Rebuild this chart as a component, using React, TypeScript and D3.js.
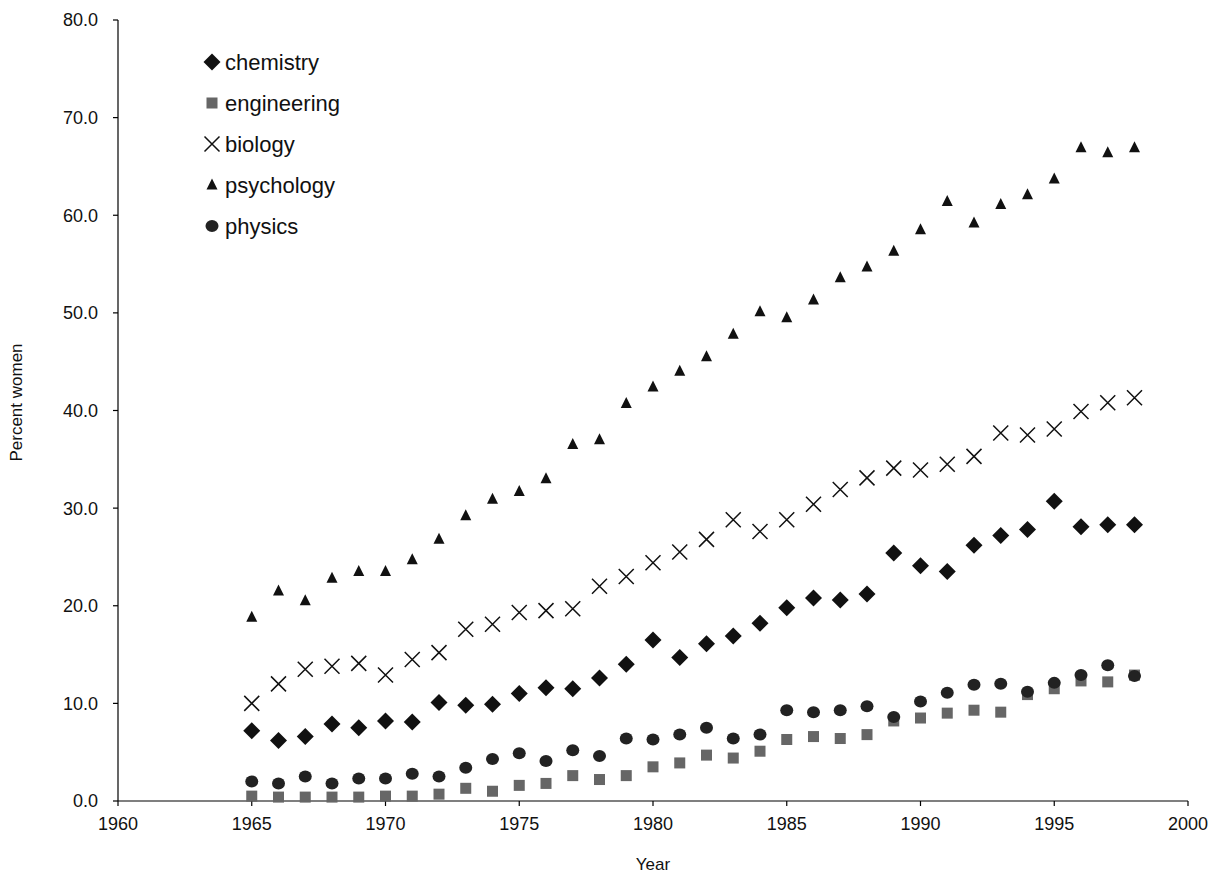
import React from "react";
import * as d3 from "d3";

const years = d3.range(1965, 1999);
const chemistry = [7.2, 6.2, 6.6, 7.9, 7.5, 8.2, 8.1, 10.1, 9.8, 9.9, 11.0, 11.6, 11.5, 12.6, 14.0, 16.5, 14.7, 16.1, 16.9, 18.2, 19.8, 20.8, 20.6, 21.2, 25.4, 24.1, 23.5, 26.2, 27.2, 27.8, 30.7, 28.1, 28.3, 28.3];
const engineering = [0.5, 0.4, 0.4, 0.4, 0.4, 0.5, 0.5, 0.7, 1.3, 1.0, 1.6, 1.8, 2.6, 2.2, 2.6, 3.5, 3.9, 4.7, 4.4, 5.1, 6.3, 6.6, 6.4, 6.8, 8.2, 8.5, 9.0, 9.3, 9.1, 10.9, 11.5, 12.3, 12.2, 12.9];
const biology = [10.0, 12.0, 13.5, 13.8, 14.1, 12.9, 14.5, 15.2, 17.6, 18.1, 19.3, 19.5, 19.7, 22.0, 23.0, 24.4, 25.5, 26.8, 28.8, 27.6, 28.8, 30.4, 31.9, 33.1, 34.1, 33.9, 34.5, 35.3, 37.7, 37.5, 38.1, 39.9, 40.8, 41.3];
const psychology = [18.8, 21.5, 20.5, 22.8, 23.5, 23.5, 24.7, 26.8, 29.2, 30.9, 31.7, 33.0, 36.5, 37.0, 40.7, 42.4, 44.0, 45.5, 47.8, 50.1, 49.5, 51.3, 53.6, 54.7, 56.3, 58.5, 61.4, 59.2, 61.1, 62.1, 63.7, 66.9, 66.4, 66.9];
const physics = [2.0, 1.8, 2.5, 1.8, 2.3, 2.3, 2.8, 2.5, 3.4, 4.3, 4.9, 4.1, 5.2, 4.6, 6.4, 6.3, 6.8, 7.5, 6.4, 6.8, 9.3, 9.1, 9.3, 9.7, 8.6, 10.2, 11.1, 11.9, 12.0, 11.2, 12.1, 12.9, 13.9, 12.8];

const xTicks = [1960, 1965, 1970, 1975, 1980, 1985, 1990, 1995, 2000];
const yTicks = [0, 10, 20, 30, 40, 50, 60, 70, 80];

const seriesNames = ["chemistry", "engineering", "biology", "psychology", "physics"];
const seriesValues = [chemistry, engineering, biology, psychology, physics];

const FONT = "'Liberation Sans', Arial, Helvetica, sans-serif";

function Marker({ kind, x, y }: { kind: string; x: number; y: number }) {
  if (kind === "chemistry") {
    const s = 8.5;
    return <path d={`M${x},${y - s}L${x + s},${y}L${x},${y + s}L${x - s},${y}Z`} fill="#111" />;
  }
  if (kind === "engineering") {
    const s = 5.5;
    return <rect x={x - s} y={y - s} width={2 * s} height={2 * s} fill="#666" />;
  }
  if (kind === "biology") {
    const s = 7.5;
    return (
      <path d={`M${x - s},${y - s}L${x + s},${y + s}M${x - s},${y + s}L${x + s},${y - s}`} stroke="#111" strokeWidth={1.5} fill="none" />
    );
  }
  if (kind === "psychology") {
    const w = 5.5, h = 11;
    return <path d={`M${x},${y - h * 0.6}L${x + w},${y + h * 0.4}L${x - w},${y + h * 0.4}Z`} fill="#111" />;
  }
  return <ellipse cx={x} cy={y} rx={6.5} ry={6} fill="#222" />;
}

export default function App() {
  const width = 1211, height = 873;
  const x = d3.scaleLinear().domain([1960, 2000]).range([118, 1188]);
  const y = d3.scaleLinear().domain([0, 80]).range([801, 20]);
  const fmt = d3.format(".1f");

  return (
    <svg width={width} height={height} style={{ position: "absolute", left: 0, top: 0, background: "#fff" }} fontFamily={FONT}>
      <rect width={width} height={height} fill="#fff" />
      {/* axes */}
      <line x1={118} y1={y(80)} x2={118} y2={y(0)} stroke="#000" strokeWidth={1.2} />
      <line x1={118} y1={801} x2={x(2000)} y2={801} stroke="#000" strokeWidth={1.2} />
      {yTicks.map((t) => (
        <g key={"y" + t}>
          <line x1={113} x2={118} y1={y(t)} y2={y(t)} stroke="#000" strokeWidth={1.2} />
          <text x={98} y={y(t)} dy="0.36em" textAnchor="end" fontSize={18} fill="#111">{fmt(t)}</text>
        </g>
      ))}
      {xTicks.map((t) => (
        <g key={"x" + t}>
          <line x1={x(t)} x2={x(t)} y1={801} y2={806} stroke="#000" strokeWidth={1.2} />
          <text x={x(t)} y={830} textAnchor="middle" fontSize={18} fill="#111">{t}</text>
        </g>
      ))}
      <text x={x(1980)} y={870} textAnchor="middle" fontSize={17} fill="#111">Year</text>
      <text transform={`translate(22,${y(40) - 8}) rotate(-90)`} textAnchor="middle" fontSize={17} fill="#111">Percent women</text>

      {/* points */}
      {seriesNames.map((name, si) => (
        <g key={name}>
          {years.map((yr, i) => (
            <Marker key={yr} kind={name} x={x(yr)} y={y(seriesValues[si][i])} />
          ))}
        </g>
      ))}

      {/* legend */}
      {seriesNames.map((name, i) => (
        <g key={"lg" + name}>
          <Marker kind={name} x={212} y={62 + i * 41} />
          <text x={225} y={62 + i * 41} dy="0.36em" fontSize={22} fill="#111">{name}</text>
        </g>
      ))}
    </svg>
  );
}
